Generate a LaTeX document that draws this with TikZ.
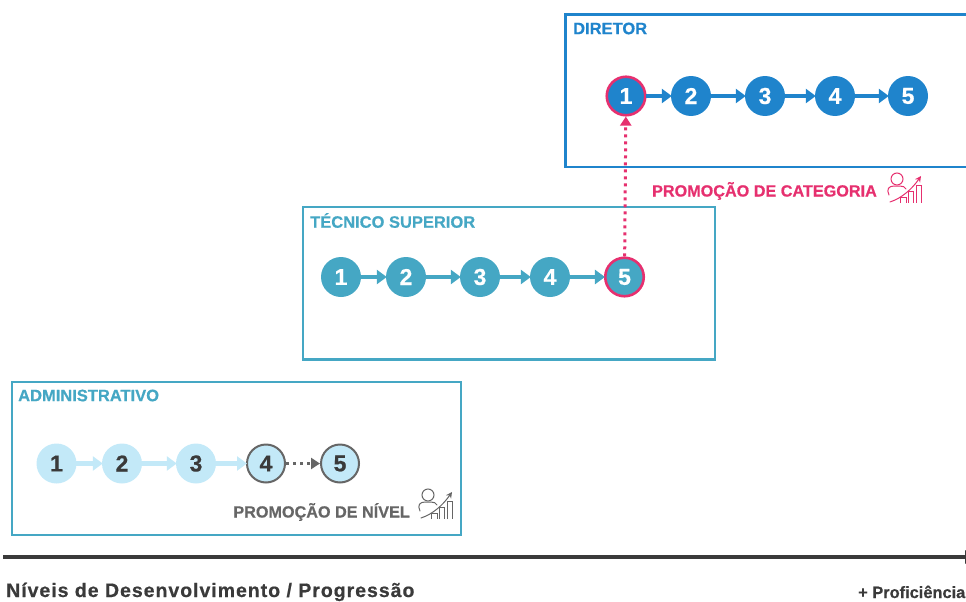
\documentclass[tikz,border=0pt]{standalone}
\usepackage{fontspec}
\setmainfont[BoldFeatures={FakeBold=0.6}]{Liberation Sans}
\newfontfamily\spaced[BoldFeatures={FakeBold=0.6,LetterSpace=5}]{Liberation Sans}
\usetikzlibrary{arrows.meta}
\definecolor{dirblue}{HTML}{1F84CC}
\definecolor{tecteal}{HTML}{45A7C4}
\definecolor{admlight}{HTML}{C3E9F8}
\definecolor{pinkc}{HTML}{E6306F}
\definecolor{greyc}{HTML}{666666}
\definecolor{darkc}{HTML}{3A3A3A}
\tikzset{
 x=1pt,y=-1pt,
 frame/.style={draw=#1,line width=2.5pt,fill=none},
 num/.style={circle,minimum size=40pt,inner sep=0pt,font=\bfseries\fontsize{23}{23}\selectfont},
 dirnum/.style={num,fill=dirblue,text=white},
 tecnum/.style={num,fill=tecteal,text=white},
 admnum/.style={num,fill=admlight,text=darkc},
 greynum/.style={admnum,draw=greyc,line width=2pt,minimum size=38pt},
 pinkring/.style={draw=pinkc,line width=2.6pt,minimum size=38.5pt},
 link/.style={draw=#1,line width=4.4pt,-{Triangle[length=10pt,width=14pt]},shorten >=-1pt,shorten <=-1pt},
 dotlink/.style={draw=#1,line width=3pt,dash pattern=on 3pt off 4pt,-{Triangle[length=9pt,width=11pt]}},
 heading/.style={anchor=west,inner sep=0pt,font=\bfseries\fontsize{16.5}{17}\selectfont},
 promo/.style={anchor=east,inner sep=0pt,font=\bfseries\fontsize{16.2}{17}\selectfont},
 pics/growth/.style={code={
  \draw[#1,line width=1pt,line cap=round] (9,-7) circle (6);
  \draw[#1,line width=1pt,line cap=round] (1,9) .. controls (-2,3) and (1,0) .. (6,0) -- (12,0) .. controls (15,0) and (17,1) .. (18,3);
  \draw[#1,line width=1pt,line cap=round,-{Stealth[length=6pt,width=6pt]}] (2,16) .. controls (14,12) and (24,3) .. (33,-10);
  \draw[#1,line width=1pt] (12,17) -- (12,11) -- (18,11) -- (18,17);
  \draw[#1,line width=1pt] (20,17) -- (20,5) -- (25,5) -- (25,17);
  \draw[#1,line width=1pt] (28,17) -- (28,-1) -- (33,-1) -- (33,17);
 }}
}
\begin{document}
\begin{tikzpicture}
\useasboundingbox (0,0) rectangle (966,602);
% frames
\node[frame=dirblue,minimum width=420pt,minimum height=152pt,anchor=north west,inner sep=0pt] (dirbox) at (564,13.5) {};
\node[frame=tecteal,minimum width=412pt,minimum height=152.5pt,anchor=north west,inner sep=0pt] (tecbox) at (301.5,205.5) {};
\node[frame=tecteal,minimum width=449pt,minimum height=153pt,anchor=north west,inner sep=0pt] (admbox) at (10.5,380.5) {};
% headings
\node[heading,text=dirblue] (dirh) at (573,28.5) {DIRETOR};
\node[heading,text=tecteal] (tech) at (310,220.5) {TÉCNICO SUPERIOR};
\node[heading,text=tecteal] (admh) at (18,395.5) {ADMINISTRATIVO};
% director
\node[dirnum,pinkring] (d1) at (626,96) {1};
\node[dirnum] (d2) at (691,96) {2};
\node[dirnum] (d3) at (765,96) {3};
\node[dirnum] (d4) at (835,96) {4};
\node[dirnum] (d5) at (908,96) {5};
\draw[link=dirblue] (d1) -- (d2);
\draw[link=dirblue] (d2) -- (d3);
\draw[link=dirblue] (d3) -- (d4);
\draw[link=dirblue] (d4) -- (d5);
% tecnico
\node[tecnum] (t1) at (341,277) {1};
\node[tecnum] (t2) at (406,277) {2};
\node[tecnum] (t3) at (480,277) {3};
\node[tecnum] (t4) at (550,277) {4};
\node[tecnum,pinkring] (t5) at (624.5,277) {5};
\draw[link=tecteal] (t1) -- (t2);
\draw[link=tecteal] (t2) -- (t3);
\draw[link=tecteal] (t3) -- (t4);
\draw[link=tecteal] (t4) -- (t5);
% administrativo
\node[admnum] (a1) at (56.5,463.5) {1};
\node[admnum] (a2) at (122,463.5) {2};
\node[admnum] (a3) at (196,463.5) {3};
\node[greynum] (a4) at (266,463.5) {4};
\node[greynum] (a5) at (340,463.5) {5};
\draw[link=admlight] (a1) -- (a2);
\draw[link=admlight] (a2) -- (a3);
\draw[link=admlight] (a3) -- (a4);
\draw[dotlink=greyc] (a4) -- (a5);
% promotion
\draw[dotlink=pinkc] (t5) -- (d1);
\node[promo,text=pinkc] (pc) at (877,191) {PROMOÇÃO DE CATEGORIA};
\pic at (888,186) {growth=pinkc};
\node[promo,text=greyc] (pn) at (410,512) {PROMOÇÃO DE NÍVEL};
\pic at (419,502) {growth=greyc};
% axis
\coordinate (ax0) at (3,557);
\coordinate (ax1) at (976,557);
\draw[darkc,line width=4.5pt,-{Triangle[length=11pt,width=13pt]}] (ax0) -- (ax1);
\node[anchor=base west,inner sep=0pt,text=darkc,font=\spaced\bfseries\fontsize{19.5}{20}\selectfont] (lv) at (6,597) {Níveis de Desenvolvimento / Progressão};
\node[anchor=base east,inner sep=0pt,text=darkc,font=\bfseries\fontsize{16.4}{17}\selectfont] (pf) at (965.5,598) {+ Proficiência};
\end{tikzpicture}
\end{document}
